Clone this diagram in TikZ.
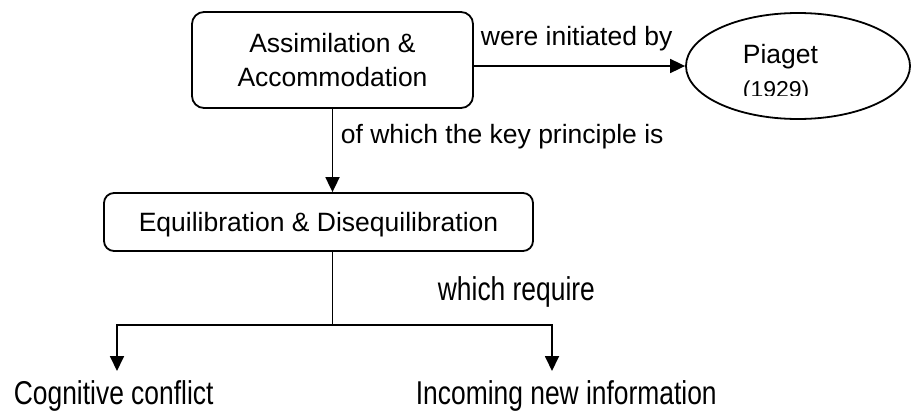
\documentclass[tikz,border=0pt]{standalone}
\usepackage{fontspec}
\setmainfont{Liberation Sans}
\newfontfamily\narrowfont[FakeStretch=0.8]{Liberation Sans}
\usetikzlibrary{arrows.meta,shapes.geometric}
\begin{document}
\begin{tikzpicture}[x=1pt,y=-1pt,
  line width=1.8pt,
  boxnode/.style={draw, rounded corners=12pt, align=center, inner sep=0pt,
    font=\fontsize{26.5}{34}\selectfont},
  lbl/.style={anchor=base west, inner sep=0pt, font=\fontsize{26.5}{32}\selectfont},
  narrowlbl/.style={anchor=base west, inner sep=0pt, font=\narrowfont\fontsize{33}{36}\selectfont},
  arr/.style={-{Triangle[length=15pt,width=14pt]}},
]
\useasboundingbox[fill=white] (0,0) rectangle (912,410);

\node[boxnode, minimum width=281pt, minimum height=96pt] (b1) at (332.5,60)
  {Assimilation \&\\Accommodation};
\node[boxnode, rounded corners=10pt, minimum width=429pt, minimum height=58pt, text depth=0pt] (b2)
  at (318.5,222) {Equilibration \& Disequilibration};

\node[draw, ellipse, minimum width=224pt, minimum height=106pt, inner sep=0pt] (pe) at (798,66) {};
\node[lbl] (pt) at (742,63) {Piaget};
\begin{scope}
  \clip (686,0) rectangle (912,95);
  \node[anchor=base west, inner sep=0pt, font=\fontsize{23}{26}\selectfont] (yr) at (742,97) {(1929)};
\end{scope}

\draw[arr] ([yshift=-6pt]b1.east) -- (pe.west);
\node[lbl] (l1) at (480,45) {were initiated by};

\draw[arr] (b1.south) -- (b1.south |- b2.north);
\node[lbl] (l2) at (340,143) {of which the key principle is};

\coordinate (j) at (332.5,325);
\coordinate (tl) at (117,371);
\coordinate (tr) at (552,371);
\draw (b2.south -| j) -- (j);
\draw[arr] (j) -| (tl);
\draw[arr] (j) -| (tr);

\node[narrowlbl] (wr) at (437,300) {which require};
\node[narrowlbl] (cc) at (13,404) {Cognitive conflict};
\node[narrowlbl] (ni) at (415,404) {Incoming new information};
\end{tikzpicture}
\end{document}
